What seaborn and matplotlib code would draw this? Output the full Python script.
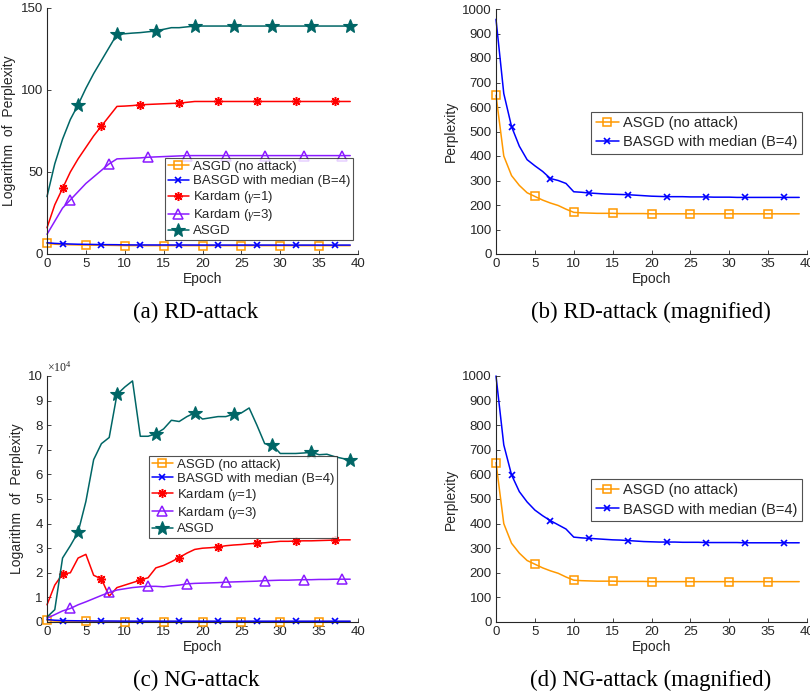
import numpy as np
import pandas as pd
import matplotlib
matplotlib.use("Agg")
import matplotlib.pyplot as plt
import seaborn as sns

epochs = list(range(40))

# (a) RD-attack, logarithm of perplexity
rd_asgd_clean = [6.47, 5.99, 5.77, 5.63, 5.52, 5.46, 5.39, 5.34, 5.29, 5.21,
                 5.14, 5.12, 5.12, 5.11, 5.11, 5.11, 5.10, 5.10, 5.10, 5.10,
                 5.10, 5.10, 5.10, 5.10, 5.10, 5.10, 5.10, 5.10, 5.10, 5.10,
                 5.10, 5.10, 5.10, 5.10, 5.10, 5.10, 5.10, 5.10, 5.10, 5.10]
rd_basgd = [6.86, 6.48, 6.25, 6.09, 5.95, 5.89, 5.82, 5.73, 5.70, 5.66,
            5.54, 5.53, 5.52, 5.51, 5.50, 5.50, 5.49, 5.49, 5.48, 5.47,
            5.46, 5.46, 5.46, 5.45, 5.45, 5.45, 5.45, 5.45, 5.45, 5.45,
            5.44, 5.44, 5.44, 5.44, 5.44, 5.44, 5.44, 5.44, 5.44, 5.44]
rd_kardam1 = [16, 30, 40, 50, 58, 65, 72, 78, 84, 90,
              90.2, 90.5, 91, 91.2, 91.4, 91.6, 91.8, 92, 92.5, 93,
              93, 93, 93, 93, 93, 93, 93, 93, 93, 93,
              93, 93, 93, 93, 93, 93, 93, 93, 93, 93]
rd_kardam3 = [12, 20, 28, 33, 38, 43, 47, 51, 55, 58,
              58.2, 58.4, 58.6, 59, 59.2, 59.4, 59.6, 59.8, 60, 60,
              60, 60, 60, 60, 60, 60, 60, 60, 60, 60,
              60, 60, 60, 60, 60, 60, 60, 60, 60, 60]
rd_asgd = [35, 55, 70, 82, 91, 101, 110, 118, 126, 134,
           134.3, 134.7, 135, 135.5, 136, 137, 138, 138, 138.5, 139,
           139, 139, 139, 139, 139, 139, 139, 139, 139, 139,
           139, 139, 139, 139, 139, 139, 139, 139, 139, 139]

# (b)/(d) perplexity
asgd_clean = [648, 400, 320, 280, 250, 235, 220, 208, 198, 183,
              170, 168, 167, 166, 166, 166, 165, 165, 165, 165,
              164, 164, 164, 164, 164, 164, 164, 164, 164, 164,
              164, 164, 164, 164, 164, 164, 164, 164, 164, 164]
rd_basgd_ppl = [958, 655, 520, 440, 385, 360, 337, 308, 300, 288,
                254, 252, 249, 247, 245, 244, 243, 242, 240, 238,
                236, 235, 234, 234, 234, 233, 233, 233, 232, 232,
                232, 231, 231, 231, 231, 231, 231, 231, 231, 231]
ng_basgd_ppl = [1000, 720, 598, 530, 488, 455, 432, 412, 395, 378,
                345, 342, 340, 338, 336, 334, 333, 331, 329, 327,
                326, 325, 325, 325, 324, 324, 324, 323, 323, 323,
                323, 323, 322, 322, 322, 322, 322, 322, 322, 322]

# (c) NG-attack (x 10^4)
ng_kardam1 = [0.70, 1.50, 1.95, 2.00, 2.60, 2.75, 1.90, 1.75, 1.05, 1.40,
              1.50, 1.60, 1.70, 1.80, 2.20, 2.30, 2.45, 2.62, 2.80, 2.95,
              3.00, 3.02, 3.05, 3.10, 3.13, 3.15, 3.18, 3.20, 3.22, 3.25,
              3.28, 3.28, 3.29, 3.30, 3.30, 3.31, 3.32, 3.33, 3.34, 3.34]
ng_kardam3 = [0.15, 0.30, 0.45, 0.55, 0.70, 0.82, 0.95, 1.08, 1.20, 1.30,
              1.35, 1.40, 1.43, 1.45, 1.45, 1.43, 1.47, 1.50, 1.55, 1.57,
              1.58, 1.59, 1.60, 1.62, 1.63, 1.64, 1.65, 1.66, 1.68, 1.69,
              1.70, 1.70, 1.71, 1.72, 1.72, 1.73, 1.73, 1.74, 1.74, 1.74]
ng_asgd = [0.20, 0.50, 2.60, 3.10, 3.65, 4.90, 6.60, 7.25, 7.50, 9.25,
           9.55, 9.80, 7.55, 7.55, 7.65, 7.85, 8.20, 8.15, 8.35, 8.50,
           8.25, 8.30, 8.35, 8.35, 8.45, 8.50, 8.70, 8.00, 7.25, 7.20,
           6.85, 6.85, 6.85, 6.87, 6.90, 6.80, 6.82, 6.72, 6.65, 6.58]

labels = ["ASGD (no attack)", "BASGD with median (B=4)",
          "Kardam ($\\gamma$=1)", "Kardam ($\\gamma$=3)", "ASGD"]

sns.set_style("white")
plt.rcParams["font.family"] = ["Liberation Sans", "DejaVu Sans"]
plt.rcParams["mathtext.fontset"] = "custom"
plt.rcParams["mathtext.rm"] = "Liberation Serif"
plt.rcParams["mathtext.it"] = "Liberation Serif:italic"

styles = {
    "clean": dict(color="#FF9900", marker="s", ms=6, mfc="none", mec="#FF9900", mew=1.1, start=0),
    "basgd": dict(color="#0000FF", marker="x", ms=4.5, mfc="none", mec="#0000FF", mew=1.2, start=2),
    "k1": dict(color="#FF0000", marker=(8, 2, 0), ms=6.5, mfc="#FF0000", mec="#FF0000", mew=1.1, start=2),
    "k3": dict(color="#8A1AFF", marker="^", ms=7.5, mfc="none", mec="#8A1AFF", mew=1.1, start=3),
    "asgd": dict(color="#006666", marker="*", ms=10.5, mfc="#006666", mec="#006666", mew=0.8, start=4),
}


def draw(ax, y, key, label):
    s = styles[key]
    sns.lineplot(x=epochs, y=y, ax=ax, color=s["color"], lw=1.1, label=label,
                 marker=s["marker"], markersize=s["ms"], markerfacecolor=s["mfc"],
                 markeredgecolor=s["mec"], markeredgewidth=s["mew"],
                 markevery=(s["start"], 5), clip_on=False, legend=False)


def style_axes(ax, ylim, yticks, ylabel):
    ax.set_xlim(0, 40)
    ax.set_ylim(*ylim)
    ax.set_xticks(range(0, 41, 5))
    ax.set_yticks(yticks)
    ax.set_xlabel("Epoch", fontsize=10, color="#262626", labelpad=1)
    ax.set_ylabel(ylabel, fontsize=10, color="#262626", labelpad=3)
    for side in ["top", "right"]:
        ax.spines[side].set_visible(False)
    for side in ["left", "bottom"]:
        ax.spines[side].set_color("#262626")
        ax.spines[side].set_linewidth(0.8)
    ax.tick_params(direction="in", length=3, width=0.6, labelsize=9.5,
                   colors="#262626", pad=3, left=True, bottom=True)


fig = plt.figure(figsize=(8.1, 6.94), dpi=100)
W, H = 810, 694


def add_axes(x0, y0, x1, y1):
    return fig.add_axes([x0 / W, 1 - y1 / H, (x1 - x0) / W, (y1 - y0) / H])


ax_a = add_axes(47, 8, 358, 254)
ax_b = add_axes(496, 9, 807, 254)
ax_c = add_axes(47, 376, 358, 622)
ax_d = add_axes(496, 376, 807, 622)

# (a)
draw(ax_a, rd_asgd_clean, "clean", labels[0])
draw(ax_a, rd_basgd, "basgd", labels[1])
draw(ax_a, rd_kardam1, "k1", labels[2])
draw(ax_a, rd_kardam3, "k3", labels[3])
draw(ax_a, rd_asgd, "asgd", labels[4])
style_axes(ax_a, (0, 150), [0, 50, 100, 150], "Logarithm  of  Perplexity")

# (b)
draw(ax_b, asgd_clean, "clean", labels[0])
draw(ax_b, rd_basgd_ppl, "basgd", labels[1])
style_axes(ax_b, (0, 1000), range(0, 1001, 100), "Perplexity")

# (c)
draw(ax_c, [v / 1e4 for v in asgd_clean], "clean", labels[0])
draw(ax_c, [v / 1e4 for v in ng_basgd_ppl], "basgd", labels[1])
draw(ax_c, ng_kardam1, "k1", labels[2])
draw(ax_c, ng_kardam3, "k3", labels[3])
draw(ax_c, ng_asgd, "asgd", labels[4])
style_axes(ax_c, (0, 10), range(0, 11), "Logarithm  of  Perplexity")
ax_c.text(0.0, 1.005, r"$\times10^{4}$", transform=ax_c.transAxes,
          fontsize=8.5, color="#262626", ha="left", va="bottom")

# (d)
draw(ax_d, asgd_clean, "clean", labels[0])
draw(ax_d, ng_basgd_ppl, "basgd", labels[1])
style_axes(ax_d, (0, 1000), range(0, 1001, 100), "Perplexity")

leg_kw = dict(frameon=True, fancybox=False, edgecolor="#262626",
              handlelength=1.6, handletextpad=0.3, borderaxespad=0)
for ax, loc, anchor, fs, sp, bp in [(ax_a, "lower right", (0.984, 0.057), 9.5, 0.15, 0.2),
                                    (ax_b, "upper right", (0.984, 0.58), 10.5, 0.35, 0.3),
                                    (ax_c, "upper right", (0.932, 0.675), 9.5, 0.15, 0.2),
                                    (ax_d, "upper right", (0.984, 0.581), 10.5, 0.35, 0.3)]:
    leg = ax.legend(loc=loc, bbox_to_anchor=anchor, fontsize=fs,
                    labelspacing=sp, borderpad=bp, **leg_kw)
    leg.get_frame().set_linewidth(0.8)

cap_kw = dict(fontsize=16.5, family="Liberation Serif", ha="center", va="center", color="black")
fig.text(196 / W, 1 - 312 / H, "(a) RD-attack", **cap_kw)
fig.text(651 / W, 1 - 312 / H, "(b) RD-attack (magnified)", **cap_kw)
fig.text(196 / W, 1 - 680 / H, "(c) NG-attack", **cap_kw)
fig.text(651 / W, 1 - 680 / H, "(d) NG-attack (magnified)", **cap_kw)

fig.savefig("out.png", dpi=100)
